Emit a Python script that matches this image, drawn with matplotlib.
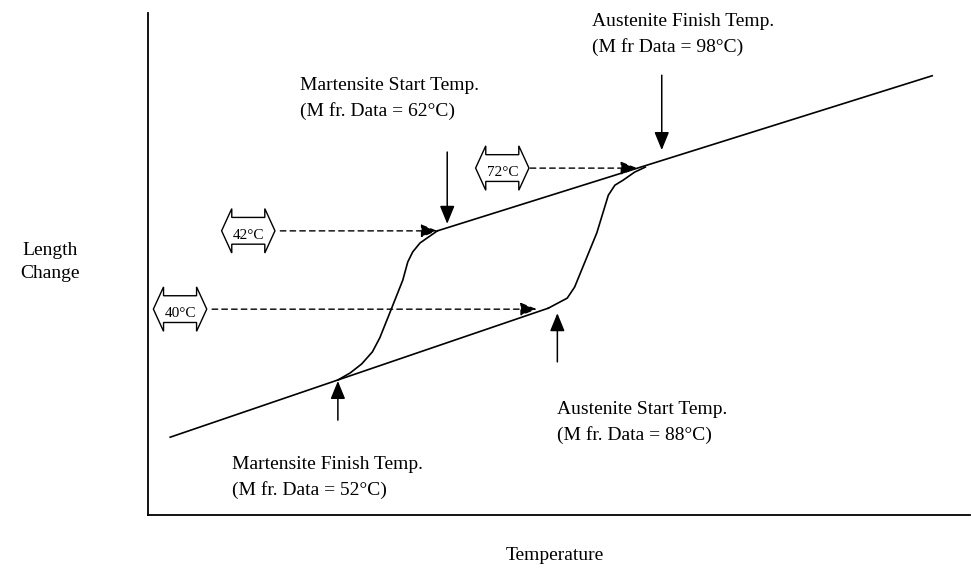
import matplotlib
matplotlib.use("Agg")
import matplotlib.pyplot as plt
from matplotlib.path import Path

# curve data (arbitrary units: temperature along x, length change along y)
lower_x = [2.7, 48.7]
lower_y = [15.5, 41.2]
upper_x = [35.2, 95.4]
upper_y = [56.6, 87.5]

# cooling branch: from Ms on the upper line down to Mf on the lower line
cool_x = [35.2, 33.1, 32.2, 31.6, 31.0, 29.4, 28.2, 27.3, 26.0, 24.6, 23.1]
cool_y = [56.6, 54.2, 52.4, 50.4, 46.8, 40.2, 35.3, 32.5, 30.1, 28.3, 26.9]

# heating branch: from As on the lower line up to Af on the upper line
heat_x = [48.7, 51.0, 51.9, 52.9, 54.6, 56.0, 56.8, 57.8, 59.2, 60.5]
heat_y = [41.2, 43.2, 45.4, 49.4, 56.2, 63.7, 65.7, 66.7, 68.3, 69.3]

labels = ["Martensite Start Temp.\n(M fr. Data = 62°C)",
          "Austenite Finish Temp.\n(M fr Data = 98°C)",
          "Martensite Finish Temp.\n(M fr. Data = 52°C)",
          "Austenite Start Temp.\n(M fr. Data = 88°C)"]
box_labels = ["42°C", "72°C", "40°C"]
box_y = [56.6, 69.1, 41.0]
box_end_x = [35.2, 59.5, 47.3]


def double_arrow(x0, y0, width, height, mutation_size):
    # block arrow pointing both ways; text sits low inside the body
    padx, pady = 0.05 * mutation_size, 0.45 * mutation_size
    lift = 0.3 * mutation_size
    x0, y0 = x0 - padx, y0 - pady + lift
    x1, y1 = x0 + width + 2 * padx, y0 + height + 2 * pady
    h = y1 - y0
    fl, hl = 0.33 * h, 0.38 * h
    ym = (y0 + y1) / 2
    verts = [(x0, y0), (x1, y0), (x1, y0 - fl), (x1 + hl, ym), (x1, y1 + fl),
             (x1, y1), (x0, y1), (x0, y1 + fl), (x0 - hl, ym), (x0, y0 - fl),
             (x0, y0)]
    return Path(verts, closed=True)


fig = plt.figure(figsize=(9.71, 5.70), dpi=100)
ax = fig.add_axes([148 / 971, 1 - 515 / 570, 822 / 971, 502 / 570])
ax.set_xlim(0, 100)
ax.set_ylim(0, 100)
ax.spines["top"].set_visible(False)
ax.spines["right"].set_visible(False)
ax.spines["left"].set_linewidth(1.3)
ax.spines["bottom"].set_linewidth(1.3)
ax.set_xticks([])
ax.set_yticks([])

serif = "Liberation Serif"
lw = 1.2
ax.plot(lower_x, lower_y, color="black", lw=lw)
ax.plot(upper_x, upper_y, color="black", lw=lw)
ax.plot(cool_x, cool_y, color="black", lw=lw)
ax.plot(heat_x, heat_y, color="black", lw=lw)

arrow = dict(arrowstyle="-|>,head_width=0.45,head_length=1.1", color="black",
             lw=1.1, shrinkA=0, shrinkB=0)

# Ms, Af (from above) and Mf, As (from below)
ax.annotate("", xy=(36.4, 58.0), xytext=(36.4, 72.3), arrowprops=arrow)
ax.annotate("", xy=(62.5, 72.7), xytext=(62.5, 87.6), arrowprops=arrow)
ax.annotate("", xy=(23.1, 26.7), xytext=(23.1, 18.9), arrowprops=arrow)
ax.annotate("", xy=(49.8, 40.2), xytext=(49.8, 30.5), arrowprops=arrow)

fs = 14
ls = 1.6
ax.text(18.5, 83.0, labels[0], fontsize=fs, family=serif, va="center",
        linespacing=ls)
ax.text(54.0, 95.7, labels[1], fontsize=fs, family=serif, va="center",
        linespacing=ls)
ax.text(10.2, 7.5, labels[2], fontsize=fs, family=serif, va="center",
        linespacing=ls)
ax.text(49.8, 18.4, labels[3], fontsize=fs, family=serif, va="center",
        linespacing=ls)

# dashed guide arrows from the double-arrow temperature boxes
box_x = [12.2, 43.1, 3.9]
box_start_x = [16.1, 46.5, 7.8]
dash = dict(arrowstyle="-|>,head_width=0.4,head_length=1.0", color="black",
            lw=1.0, linestyle=(0, (4, 3)), shrinkA=0, shrinkB=0)
for bx, sx, ex, y, t in zip(box_x, box_start_x, box_end_x, box_y, box_labels):
    ax.annotate("", xy=(ex, y), xytext=(sx, y), arrowprops=dash)
    ax.text(bx, y - 0.9, t, fontsize=11, family=serif, ha="center", va="center",
            bbox=dict(boxstyle=double_arrow, fc="white", ec="black", lw=1.0))

fig.text(50 / 971, 1 - 262 / 570, "Length\nChange", fontsize=fs, family=serif,
         ha="center", va="center", linespacing=1.4)
fig.text(555 / 971, 1 - 556 / 570, "Temperature", fontsize=fs, family=serif,
         ha="center", va="center")

fig.savefig("out.png", dpi=100, facecolor="white")
